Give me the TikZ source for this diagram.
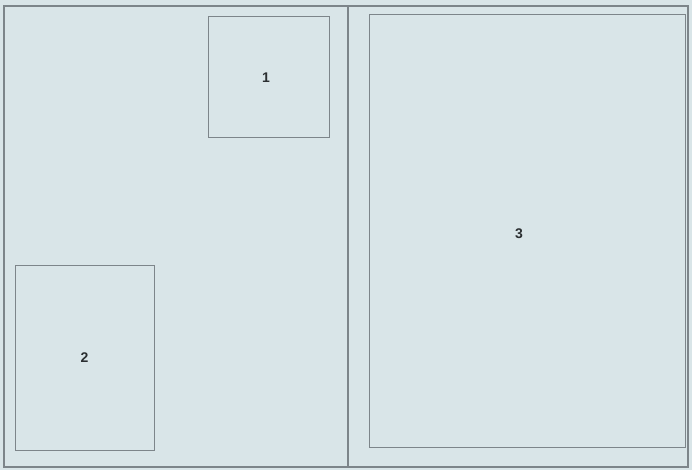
\documentclass[tikz,border=0pt]{standalone}
\usepackage{fontspec}
\setmainfont{Liberation Sans}
\usetikzlibrary{positioning}
\definecolor{sfondo}{HTML}{D9E5E8}
\definecolor{bordo}{HTML}{7D858A}
\definecolor{cifra}{HTML}{2A2E30}

\begin{document}
\begin{tikzpicture}[
  x=1pt, y=-1pt,
  pannello/.style={draw=bordo, line width=1.1pt, minimum width=#1, inner sep=0pt},
  riquadro/.style={draw=bordo, line width=0.9pt, inner sep=0pt},
  numero/.style={font=\fontsize{14}{16}\selectfont\bfseries, text=cifra}
]

% sfondo e cornice
\fill[sfondo] (0,0) rectangle (692,470);
\useasboundingbox (0,0) rectangle (692,470);

\node[pannello=344pt, minimum height=461pt] (sx) at (176,236.5) {};
\node[pannello=340pt, minimum height=461pt] (dx) at (518,236.5) {};

% riquadri numerati
\node[riquadro, minimum width=121pt, minimum height=121pt] (uno) at (268.5,76.5) {};
\node[riquadro, minimum width=139pt, minimum height=185pt] (due) at (84.5,357.5) {};
\node[riquadro, minimum width=316pt, minimum height=433pt] (tre) at (527,230.5) {};

\node[numero] (n1) at ([shift={(-2.5,1.5)}]uno.center) {1};
\node[numero] (n2) at (due.center) {2};
\node[numero] (n3) at ([shift={(-8,3.5)}]tre.center) {3};

\end{tikzpicture}
\end{document}
